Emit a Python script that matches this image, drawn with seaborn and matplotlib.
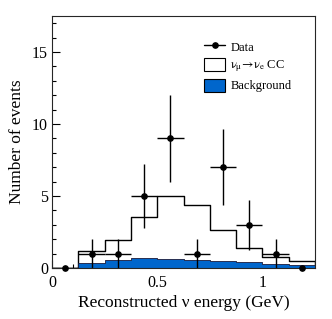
import numpy as np
import matplotlib
matplotlib.use("Agg")
import matplotlib.pyplot as plt
import seaborn as sns
from matplotlib.patches import Patch
from matplotlib.lines import Line2D
from matplotlib.ticker import MultipleLocator

# bin edges (GeV) and contents
bin_edges = [0.0, 0.125, 0.25, 0.375, 0.5, 0.625, 0.75, 0.875, 1.0, 1.125, 1.25]
bin_centers = [0.0625, 0.1875, 0.3125, 0.4375, 0.5625, 0.6875, 0.8125, 0.9375, 1.0625, 1.1875]
total_pred = [0.0, 1.15, 1.94, 3.53, 4.98, 4.40, 2.63, 1.38, 0.78, 0.51]
background = [0.0, 0.35, 0.58, 0.67, 0.62, 0.55, 0.46, 0.39, 0.30, 0.21]
data_counts = [0, 1, 1, 5, 9, 1, 7, 3, 1, 0]
data_err = [0, 1.0, 1.0, 2.24, 3.0, 1.0, 2.65, 1.73, 1.0, 0]

blue = "#0066cc"

sns.set_style("ticks")
plt.rcParams["font.family"] = ["Liberation Serif", "DejaVu Serif"]
plt.rcParams["mathtext.fontset"] = "stix"
plt.rcParams["text.color"] = "black"
plt.rcParams["axes.labelcolor"] = "black"
plt.rcParams["xtick.color"] = "black"
plt.rcParams["ytick.color"] = "black"

fig = plt.figure(figsize=(3.32, 3.19), dpi=100)
ax = fig.add_axes([0.157, 0.160, 0.792, 0.790])

# signal + background (stacked total), then background on top
sns.histplot(x=bin_centers, weights=total_pred, bins=bin_edges, element="step",
             fill=True, color="white", edgecolor="black", linewidth=1.0, alpha=1, ax=ax)
sns.histplot(x=bin_centers, weights=background, bins=bin_edges, element="step",
             fill=True, color=blue, edgecolor="#1a1a3a", linewidth=0.6, alpha=1, ax=ax)

# data points
x = np.array(bin_centers)
y = np.array(data_counts)
err = np.array(data_err)
has = y > 0
ax.errorbar(x[has], y[has], yerr=err[has], xerr=0.0625, fmt="o", color="black",
            ms=3.8, elinewidth=1.0, capsize=0, clip_on=False)
ax.plot(x[~has], y[~has], "o", color="black", ms=3.8, clip_on=False, zorder=5)

ax.set_xlim(0, 1.25)
ax.set_ylim(0, 17.5)
ax.set_xticks([0, 0.5, 1])
ax.set_xticklabels(["0", "0.5", "1"])
ax.set_yticks([0, 5, 10, 15])
ax.xaxis.set_minor_locator(MultipleLocator(0.1))
ax.yaxis.set_minor_locator(MultipleLocator(1))
ax.tick_params(which="both", direction="in", labelsize=11.5, top=False, right=False)
ax.tick_params(axis="x", pad=5)
ax.tick_params(axis="y", pad=3)
ax.tick_params(which="major", length=6, width=0.8)
ax.tick_params(which="minor", length=3, width=0.8)
for s in ax.spines.values():
    s.set_linewidth(0.8)

ax.set_xlabel("Reconstructed ν energy (GeV)", fontsize=12.5, labelpad=3)
ax.set_ylabel("Number of events", fontsize=12.5, labelpad=5)

handles = [
    Line2D([0], [0], color="black", marker="o", ms=3.8, lw=1.0),
    Patch(facecolor="white", edgecolor="black", linewidth=0.8),
    Patch(facecolor=blue, edgecolor="black", linewidth=0.8),
]
labels = ["Data", r"$\mathrm{\nu_{\mu}\!\rightarrow\!\nu_{e}}$ CC", "Background"]
ax.legend(handles, labels, loc="upper left", bbox_to_anchor=(0.56, 0.925), frameon=False,
          fontsize=9, handlelength=1.68, handleheight=1.22, handletextpad=0.4,
          labelspacing=0.34, borderaxespad=0)

fig.savefig("out.png", dpi=100)
